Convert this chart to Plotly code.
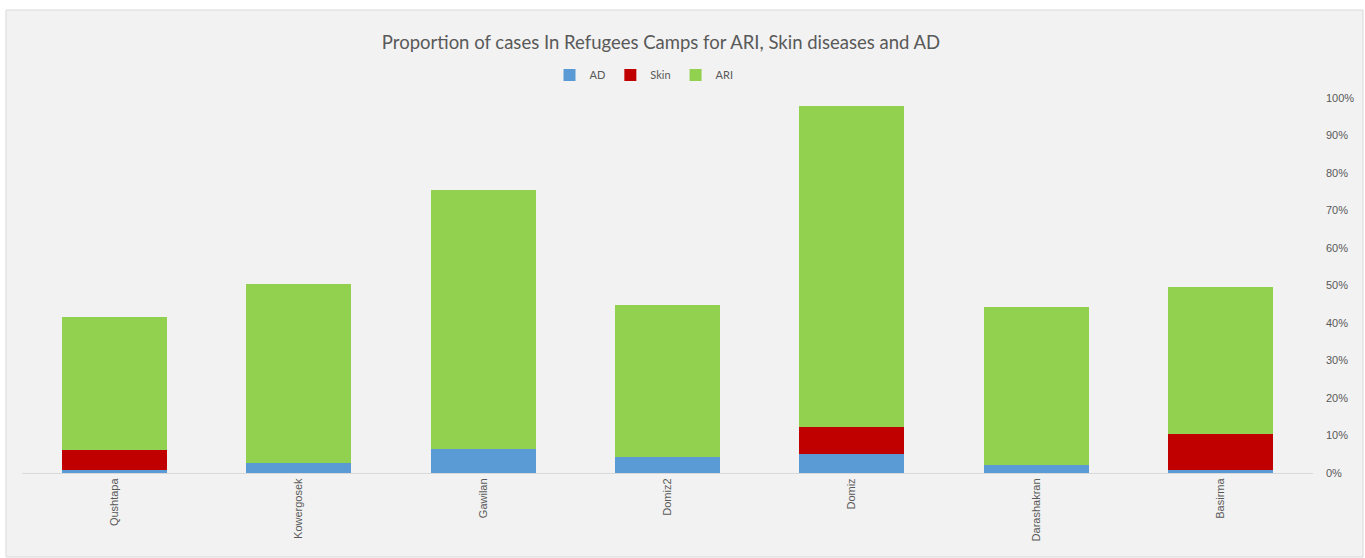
import plotly.graph_objects as go

camps = ["Qushtapa", "Kowergosek", "Gawilan", "Domiz2", "Domiz", "Darashakran", "Basirma"]
ad = [0.008, 0.026, 0.064, 0.0435, 0.051, 0.0205, 0.009]
skin = [0.053, 0.0, 0.0, 0.0, 0.071, 0.0, 0.095]
ari = [0.354, 0.477, 0.691, 0.4035, 0.858, 0.4215, 0.391]
y_ticks = [0, 0.1, 0.2, 0.3, 0.4, 0.5, 0.6, 0.7, 0.8, 0.9, 1.0]

W, H = 1365, 558
L, R, T, B = 22, 52, 98, 85
pw = W - L - R
ph = H - T - B

fig = go.Figure()
fig.add_trace(go.Bar(name="AD", x=camps, y=ad, marker=dict(color="#5b9bd5", line=dict(width=0))))
fig.add_trace(go.Bar(name="Skin", x=camps, y=skin, marker=dict(color="#c00000", line=dict(width=0))))
fig.add_trace(go.Bar(name="ARI", x=camps, y=ari, marker=dict(color="#92d050", line=dict(width=0))))

def px_x(p):
    return (p - L) / pw

def px_y(p):
    return (H - B - p) / ph

fig.add_shape(type="rect", xref="paper", yref="paper",
              x0=px_x(6), x1=px_x(1363), y0=px_y(557), y1=px_y(10),
              fillcolor="#f2f2f2", line=dict(color="#d9d9d9", width=1), layer="below")

fig.update_layout(
    width=W, height=H,
    margin=dict(l=L, r=R, t=T, b=B),
    barmode="stack",
    bargap=0.43,
    paper_bgcolor="white",
    plot_bgcolor="rgba(0,0,0,0)",
    title=dict(text="Proportion of cases In Refugees Camps for ARI, Skin diseases and AD",
               x=661 / W, xanchor="center", y=1 - 43 / H, yanchor="middle",
               font=dict(family="Lato", size=18.5, color="#595959")),
    legend=dict(orientation="h", x=px_x(644), xanchor="center", y=px_y(75), yanchor="middle",
                traceorder="normal", font=dict(family="Lato", size=11, color="#595959"),
                bgcolor="rgba(0,0,0,0)", itemwidth=30),
    xaxis=dict(showgrid=False, showline=True, linecolor="#d9d9d9", linewidth=1,
               tickangle=-90, tickfont=dict(family="Liberation Sans", size=11, color="#595959"),
               ticks="", zeroline=False),
    yaxis=dict(side="right", range=[0, 1.0], tickvals=y_ticks, tickformat=".0%",
               showgrid=False, zeroline=False, showline=False, ticks="",
               ticklabelstandoff=12,
               tickfont=dict(family="Liberation Sans", size=11, color="#595959")),
)

fig.write_html("out.html", config={"displayModeBar": False},
               post_script="document.body.style.margin='0px';document.body.style.overflow='hidden';")
